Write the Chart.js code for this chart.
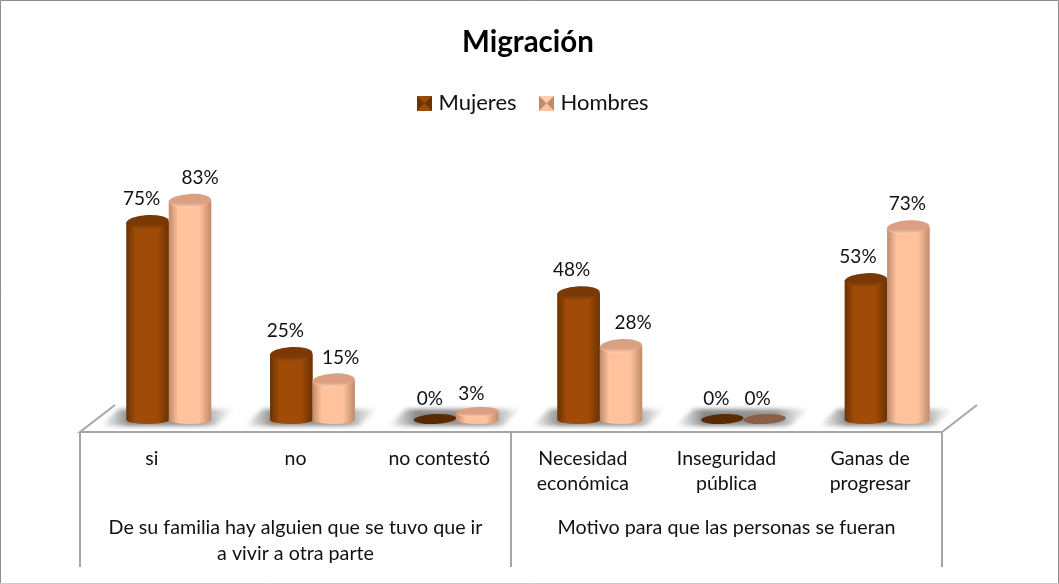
<!DOCTYPE html>
<html><head><meta charset="utf-8">
<style>html,body{margin:0;padding:0;background:#fff}canvas{display:block}</style>
<script src="https://cdn.jsdelivr.net/npm/chart.js@4"></script></head>
<body><div style="width:1059px;height:584px"><canvas id="c" width="1059" height="584"></canvas></div>
<script>
const chartTitle = 'Migración';
const categories = ['si','no','no contestó',['Necesidad','económica'],['Inseguridad','pública'],['Ganas de','progresar']];
const mujeres = [75,25,0,48,0,53];
const hombres = [83,15,3,28,0,73];
const groupNames = [['De su familia hay alguien que se tuvo que ir','a vivir a otra parte'],['Motivo para que las personas se fueran']];
const groupRanges = [[0,2],[3,5]];
const labelShiftM = [-6,-6,-5,-7,-6,-8];
const labelShiftH = [10,7,-6,12,-7,-1];

const FONT = 'Lato, Carlito, "Open Sans", sans-serif';
const DEPTH_X = 17, RY = 7;
const palette = [
 {solid:'#964607', edge:'#6b3202', mid:'#a04c08', top:'#7a3804', topLight:'#9a4c0c', flat:'#5a2a02'},
 {solid:'#fdbb94', edge:'#c08a6c', mid:'#ffc29c', top:'#dba081', topLight:'#ffd0b0', flat:'#8a5f48'}
];

function swatch(p){
  const s=15, o=document.createElement('canvas'); o.width=o.height=s;
  const g=o.getContext('2d');
  g.fillStyle=p.solid; g.fillRect(0,0,s,s);
  const tri=(pts,col)=>{g.fillStyle=col;g.beginPath();pts.forEach((q,i)=>i?g.lineTo(q[0],q[1]):g.moveTo(q[0],q[1]));g.closePath();g.fill();};
  tri([[0,0],[s,0],[s/2,s/2]],p.topLight);
  tri([[0,0],[0,s],[s/2,s/2]],p.edge);
  tri([[s,0],[s,s],[s/2,s/2]],p.edge);
  tri([[0,s],[s,s],[s/2,s/2]],p.mid);
  return o;
}

const decor = {
  id:'decor',
  afterLayout(chart){
    chart.legend.left+=7; chart.legend.right+=7;
  },
  beforeDatasetsDraw(chart){
    const {ctx,chartArea:a,scales:{x}}=chart;
    const y0=a.bottom, left=a.left-DEPTH_X, right=a.right-DEPTH_X;
    const floorY=y0+12, backY=floorY-27;
    ctx.save();
    categories.forEach((_,i)=>{
      const cx=x.getPixelForValue(i);
      ctx.save();
      ctx.filter='blur(2px)';
      const g=ctx.createLinearGradient(cx-66,0,cx+66,0);
      g.addColorStop(0,'rgba(150,150,150,0.1)');
      g.addColorStop(0.2,'rgba(130,130,130,0.95)');
      g.addColorStop(0.75,'rgba(140,140,140,0.9)');
      g.addColorStop(1,'rgba(170,170,170,0)');
      ctx.fillStyle=g;
      ctx.beginPath();
      ctx.moveTo(cx-50,y0-11);ctx.lineTo(cx+66,y0-11);ctx.lineTo(cx+46,y0+6);ctx.lineTo(cx-68,y0+6);
      ctx.closePath();ctx.fill();
      ctx.restore();
    });
    ctx.strokeStyle='#a6a6a6';ctx.lineWidth=2;
    ctx.beginPath();
    ctx.moveTo(left+35,backY);ctx.lineTo(left,floorY);ctx.lineTo(right,floorY);ctx.lineTo(right+35,backY);
    ctx.moveTo(left,floorY);ctx.lineTo(left,567);
    ctx.moveTo(right,floorY);ctx.lineTo(right,567);
    const mid=(x.getPixelForValue(2)+x.getPixelForValue(3))/2-DEPTH_X;
    ctx.moveTo(mid,floorY);ctx.lineTo(mid,567);
    ctx.stroke();
    ctx.restore();
  },
  afterDatasetsDraw(chart){
    const {ctx}=chart;
    ctx.save();
    chart.data.datasets.forEach((ds,di)=>{
      const p=palette[di], meta=chart.getDatasetMeta(di);
      meta.data.forEach((bar,i)=>{
        const cx=bar.x, rx=bar.width/2, top=bar.y, base=bar.base;
        if(ds.data[i]===0){
          ctx.fillStyle=p.flat;
          ctx.beginPath();ctx.ellipse(cx,base-1,rx,5,-0.05,0,Math.PI*2);ctx.fill();
          return;
        }
        const ry=ds.data[i]<5?5:RY;
        const g=ctx.createLinearGradient(cx-rx,0,cx+rx,0);
        g.addColorStop(0,p.edge);g.addColorStop(0.22,p.mid);g.addColorStop(0.72,p.mid);g.addColorStop(1,p.edge);
        ctx.fillStyle=g;
        ctx.beginPath();
        ctx.moveTo(cx-rx,top);ctx.lineTo(cx-rx,base);
        ctx.ellipse(cx,base,rx,4,0,Math.PI,0,true);
        ctx.lineTo(cx+rx,top);ctx.closePath();ctx.fill();
        const t=ctx.createLinearGradient(0,top-ry,0,top+ry);
        t.addColorStop(0,p.top);t.addColorStop(0.65,p.top);t.addColorStop(1,p.topLight);
        ctx.fillStyle=t;
        ctx.beginPath();ctx.ellipse(cx,top,rx,ry,-0.05,0,Math.PI*2);ctx.fill();
      });
    });
    ctx.fillStyle='#111';ctx.font='19px '+FONT;ctx.textAlign='center';ctx.textBaseline='middle';
    chart.data.datasets.forEach((ds,di)=>{
      const shifts=di?labelShiftH:labelShiftM;
      chart.getDatasetMeta(di).data.forEach((bar,i)=>{
        const off=ds.data[i]===0?21:(ds.data[i]<5?18:23);
        ctx.fillText(ds.data[i]+'%',bar.x+shifts[i],bar.y-off);
      });
    });
    ctx.font='19.7px '+FONT;
    const x=chart.scales.x;
    groupNames.forEach((lines,gi)=>{
      const [s,e]=groupRanges[gi];
      const cx=(x.getPixelForValue(s)+x.getPixelForValue(e))/2-DEPTH_X;
      lines.forEach((ln,k)=>ctx.fillText(ln,cx,528+k*26));
    });
    ctx.restore();
  },
  afterDraw(chart){
    const {ctx,width,height}=chart;
    ctx.save();ctx.strokeStyle='#8c8c8c';ctx.lineWidth=1;
    ctx.beginPath();ctx.moveTo(0.5,height-1);ctx.lineTo(0.5,0.5);ctx.lineTo(width-0.5,0.5);ctx.lineTo(width-0.5,height-1);ctx.stroke();
    ctx.strokeStyle='#c8c8c8';ctx.beginPath();ctx.moveTo(0,height-0.5);ctx.lineTo(width,height-0.5);ctx.stroke();
    ctx.restore();
  }
};

new Chart(document.getElementById('c'),{
  type:'bar',
  data:{labels:categories,datasets:[
    {label:'Mujeres',data:mujeres,backgroundColor:palette[0].solid},
    {label:'Hombres',data:hombres,backgroundColor:palette[1].solid}
  ]},
  plugins:[decor],
  options:{
    responsive:false,animation:false,
    layout:{padding:{left:97,right:100,top:0,bottom:0}},
    datasets:{bar:{categoryPercentage:0.59,barPercentage:1}},
    plugins:{
      tooltip:{enabled:false},
      title:{display:true,text:chartTitle,color:'#000',font:{family:FONT,size:29.5,weight:'bold'},padding:{top:25,bottom:5}},
      legend:{position:'top',labels:{color:'#111',font:{family:FONT,size:22},usePointStyle:true,boxWidth:6,boxHeight:14,padding:27,
        generateLabels(c){
          const l=Chart.defaults.plugins.legend.labels.generateLabels(c);
          l.forEach((it,i)=>{it.pointStyle=swatch(palette[i]);it.fontColor='#111';});
          return l;
        }}}
    },
    scales:{
      x:{grid:{display:false,drawTicks:false},border:{display:false},
         ticks:{color:'#111',font:{family:FONT,size:19.5,lineHeight:1.3},padding:26,labelOffset:-DEPTH_X,maxRotation:0,autoSkip:false},
         afterFit(s){s.height=164;}},
      y:{display:false,min:0,max:112}
    }
  }
});
</script></body></html>
